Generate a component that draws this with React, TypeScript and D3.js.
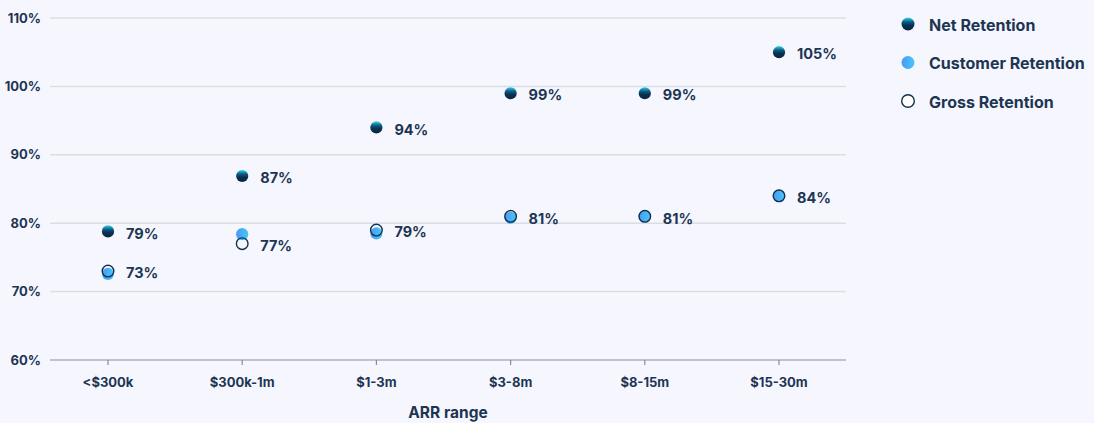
import React from "react";
import * as d3 from "d3";

const categories = ["<$300k", "$300k-1m", "$1-3m", "$3-8m", "$8-15m", "$15-30m"];
const netRetention = [78.8, 86.9, 94, 99, 99, 105];
const customerRetention = [72.6, 78.4, 78.5, 80.8, 81, 84];
const grossRetention = [73, 77, 79, 81, 81, 84];
const netLabels = ["79%", "87%", "94%", "99%", "99%", "105%"];
const grossLabels = ["73%", "77%", "79%", "81%", "81%", "84%"];
const yTicks = [60, 70, 80, 90, 100, 110];
const legendItems = ["Net Retention", "Customer Retention", "Gross Retention"];

const W = 1094;
const H = 423;
const FONT = "Inter, 'Noto Sans', sans-serif";
const TEXT = "#1d3553";

export default function App() {
  const x = d3.scalePoint<string>().domain(categories).range([108, 779]);
  const y = d3.scaleLinear().domain([60, 110]).range([360, 18]);
  const r = 5.8;

  return (
    <div style={{ position: "fixed", left: 0, top: 0, width: W, height: H }}>
      <svg width={W} height={H} style={{ display: "block", background: "#f6f7fe" }}>
        <defs>
          <linearGradient id="netGrad" x1="0" y1="0" x2="0" y2="1">
            <stop offset="0" stopColor="#2fd4f0" />
            <stop offset="0.35" stopColor="#0c5a80" />
            <stop offset="0.6" stopColor="#0a3152" />
            <stop offset="1" stopColor="#0a2340" />
          </linearGradient>
          <linearGradient id="custGrad" x1="0" y1="0" x2="1" y2="0">
            <stop offset="0" stopColor="#4a98f6" />
            <stop offset="1" stopColor="#47c8f6" />
          </linearGradient>
        </defs>
        {/* grid */}
        {yTicks.map((t) => (
          <g key={t}>
            <line
              x1={50}
              x2={846}
              y1={y(t)}
              y2={y(t)}
              stroke={t === 60 ? "#8a8d93" : "#dcdde2"}
              strokeWidth={t === 60 ? 1.2 : 1.5}
            />
            <text
              x={41}
              y={y(t)}
              dy="0.35em"
              textAnchor="end"
              fontFamily={FONT}
              fontWeight={700}
              fontSize={13}
              fill={TEXT}
            >
              {t}%
            </text>
          </g>
        ))}
        {/* x ticks */}
        {categories.map((c) => (
          <g key={c}>
            <line x1={x(c)} x2={x(c)} y1={360} y2={365} stroke="#8a8d93" strokeWidth={1.2} />
            <text
              x={x(c)}
              y={387}
              textAnchor="middle"
              fontFamily={FONT}
              fontWeight={700}
              fontSize={13}
              fill={TEXT}
            >
              {c}
            </text>
          </g>
        ))}
        <text
          x={448}
          y={418}
          textAnchor="middle"
          fontFamily={FONT}
          fontWeight={700}
          fontSize={15.5}
          fill={TEXT}
        >
          ARR range
        </text>
        {/* customer retention */}
        {categories.map((c, i) => (
          <circle key={"c" + c} cx={x(c)} cy={y(customerRetention[i])} r={r + 0.3} fill="url(#custGrad)" />
        ))}
        {/* gross retention */}
        {categories.map((c, i) => (
          <circle
            key={"g" + c}
            cx={x(c)}
            cy={y(grossRetention[i])}
            r={r}
            fill="none"
            stroke="#14304d"
            strokeWidth={1.4}
          />
        ))}
        {/* net retention */}
        {categories.map((c, i) => (
          <circle key={"n" + c} cx={x(c)} cy={y(netRetention[i])} r={r + 0.3} fill="url(#netGrad)" />
        ))}
        {/* labels */}
        {categories.map((c, i) => (
          <g key={"l" + c}>
            <text
              x={(x(c) as number) + 18}
              y={y(netRetention[i])}
              dy="0.5em"
              fontFamily={FONT}
              fontWeight={700}
              fontSize={14.5}
              fill={TEXT}
            >
              {netLabels[i]}
            </text>
            <text
              x={(x(c) as number) + 18}
              y={y(grossRetention[i])}
              dy="0.5em"
              fontFamily={FONT}
              fontWeight={700}
              fontSize={14.5}
              fill={TEXT}
            >
              {grossLabels[i]}
            </text>
          </g>
        ))}
        {/* legend */}
        {legendItems.map((name, i) => {
          const ly = 24 + i * 38.5;
          return (
            <g key={name}>
              {i === 2 ? (
                <circle cx={908} cy={ly} r={r + 0.5} fill="#fff" stroke="#14304d" strokeWidth={1.4} />
              ) : (
                <circle cx={908} cy={ly} r={r + 0.7} fill={i === 0 ? "url(#netGrad)" : "url(#custGrad)"} />
              )}
              <text
                x={929}
                y={ly}
                dy="0.42em"
                fontFamily={FONT}
                fontWeight={700}
                fontSize={16}
                fill={TEXT}
              >
                {name}
              </text>
            </g>
          );
        })}
      </svg>
    </div>
  );
}
